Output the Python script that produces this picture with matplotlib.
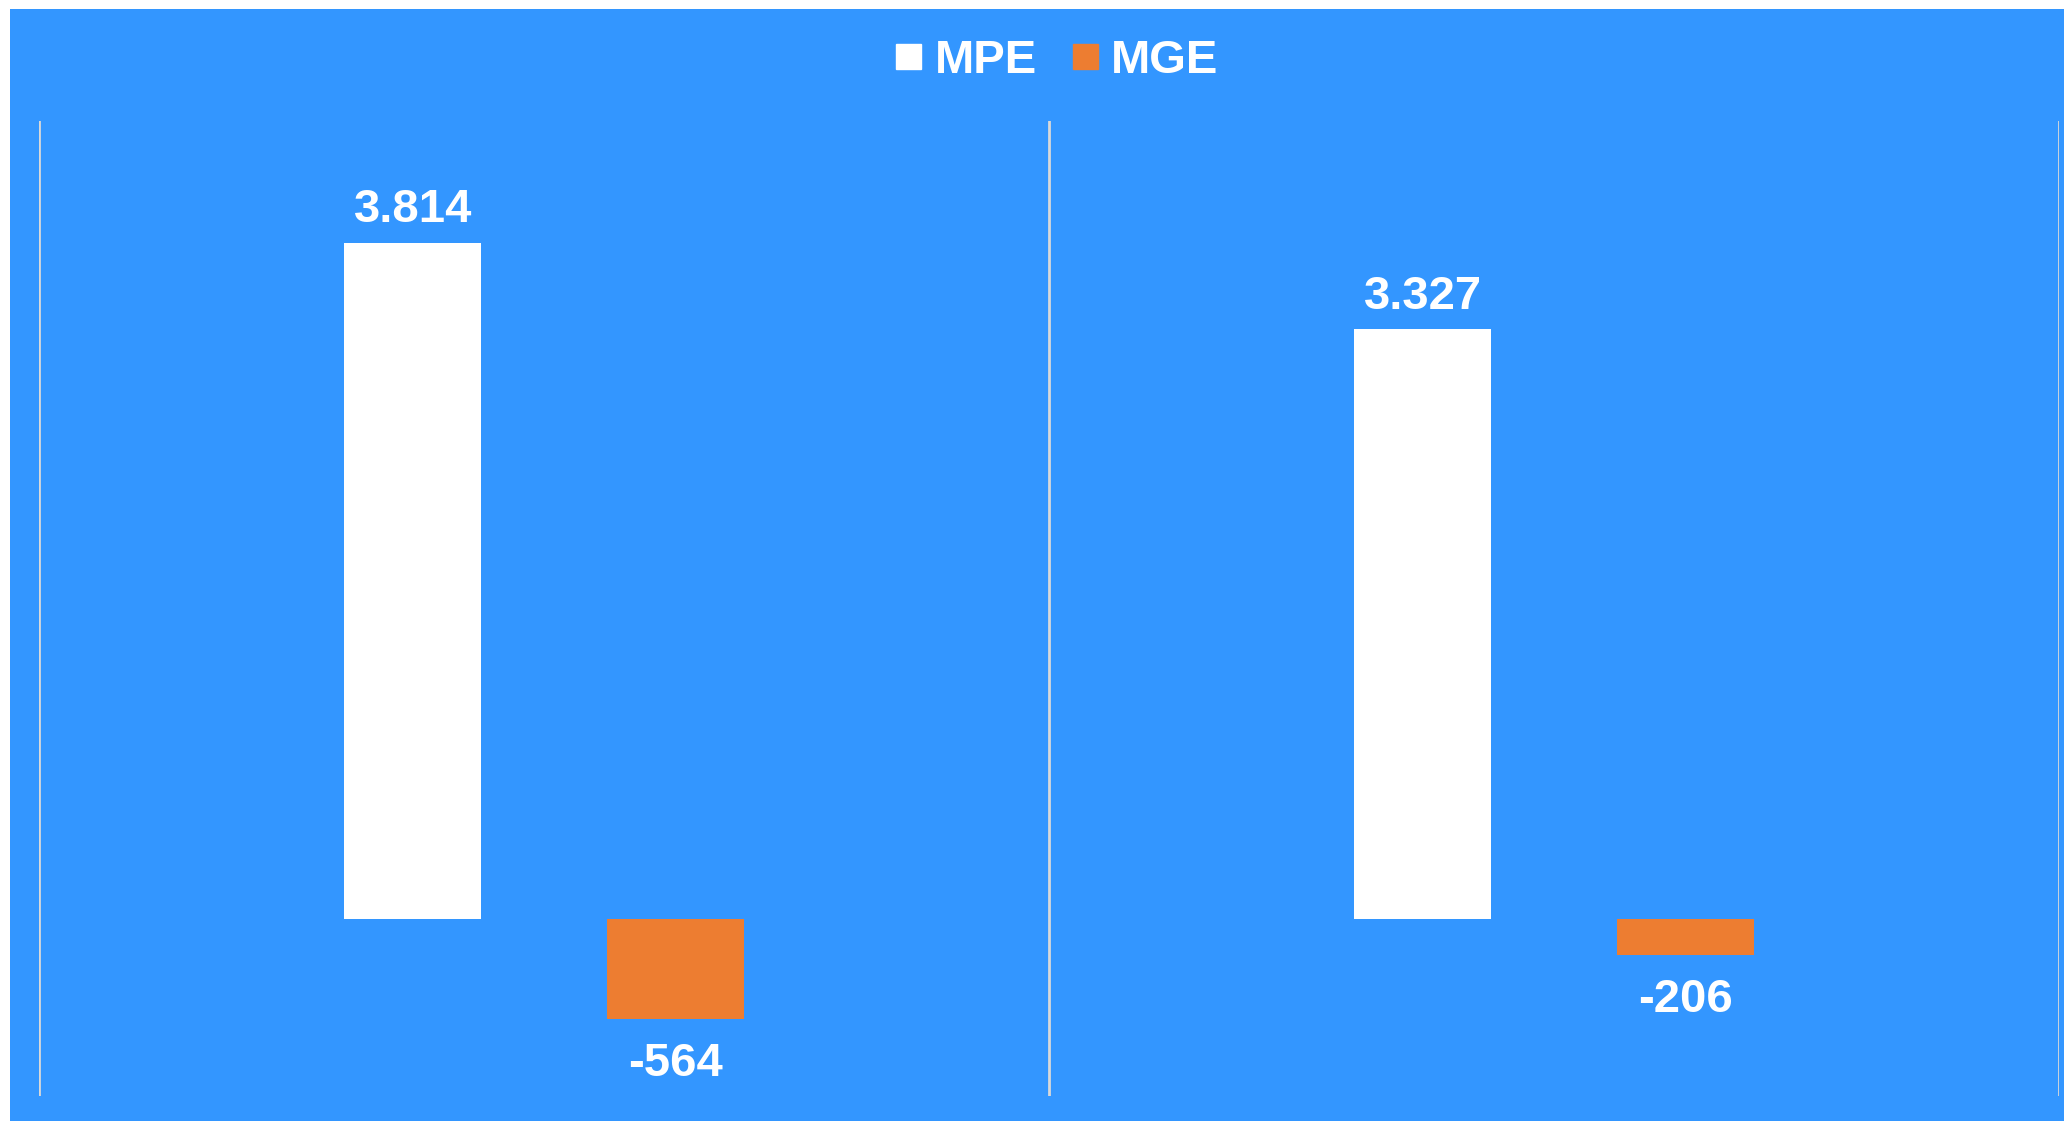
import numpy as np
import matplotlib.pyplot as plt
from matplotlib.lines import Line2D
from matplotlib.patches import Rectangle

plt.rcParams['font.family'] = ['Liberation Sans', 'DejaVu Sans']

groups = ["A", "B"]
mpe = [3814, 3327]
mge = [-564, -206]

blue = "#3396FF"
orange = "#ED7D31"
W, H = 2064, 1122

fig = plt.figure(figsize=(20.64, 11.219), dpi=100, facecolor="white")
# blue panel, leaves a thin white strip on the top and left edge
fig.patches.append(Rectangle((10/W, 0), 1 - 10/W, 1 - 10/H, transform=fig.transFigure,
                             facecolor=blue, edgecolor="none", zorder=-5))

ax = fig.add_axes([39/W, 1 - 1097/H, (2059 - 39)/W, (1097 - 122)/H])
ax.set_facecolor("none")
ax.set_zorder(2)

x = np.arange(len(groups))
bw = 0.136
off = 0.13
b1 = ax.bar(x - off, mpe, bw, color="white", zorder=2)
b2 = ax.bar(x + off, mge, bw, color=orange, zorder=2)

def fmt(v):
    return f"{v:,}".replace(",", ".")

for rect, v in zip(list(b1) + list(b2), mpe + mge):
    cx = rect.get_x() + rect.get_width()/2
    if v >= 0:
        ax.annotate(fmt(v), (cx, v), xytext=(0, 8), textcoords="offset points",
                    ha="center", va="bottom", color="white", fontsize=34, fontweight="bold")
    else:
        ax.annotate(fmt(v), (cx, v), xytext=(0, -16), textcoords="offset points",
                    ha="center", va="top", color="white", fontsize=34, fontweight="bold")

for xv in [-0.5, 0.5, 1.5]:
    ax.axvline(xv, color="#D9D9D9", lw=2, zorder=1)

ax.set_xlim(-0.5, 1.5)
ax.set_ylim(-1000, 4500)
ax.set_xticks([])
ax.set_yticks([])
for s in ax.spines.values():
    s.set_visible(False)

handles = [Line2D([], [], marker="s", ls="none", markersize=18, color="white"),
           Line2D([], [], marker="s", ls="none", markersize=18, color=orange)]
leg = fig.legend(handles, ["MPE", "MGE"], loc="center", bbox_to_anchor=(1057/W, 1 - 61/H),
                 ncol=2, frameon=False, handlelength=0.55, handletextpad=0.28,
                 columnspacing=0.75, borderpad=0, prop={"size": 34, "weight": "bold"})
for t in leg.get_texts():
    t.set_color("white")

fig.savefig("out.png", dpi=100, facecolor="white")
